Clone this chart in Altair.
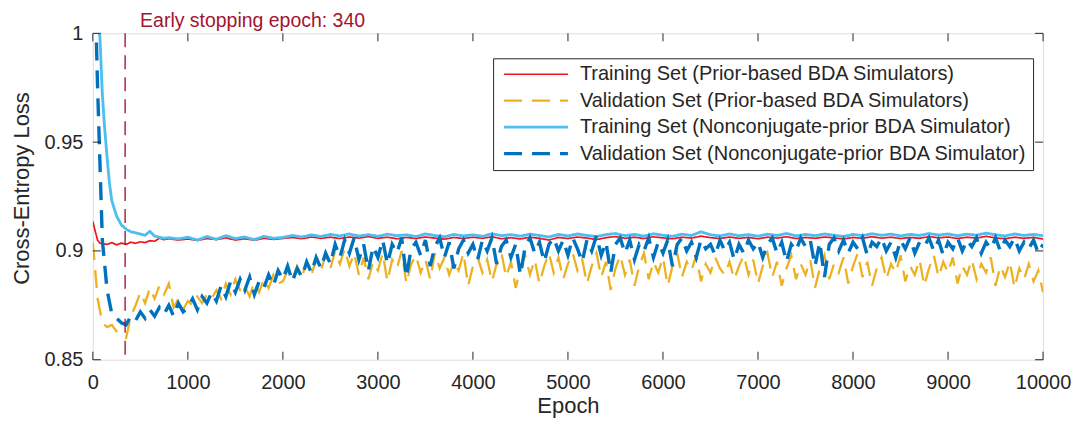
import altair as alt
import pandas as pd

SERIES = [
    "Training Set (Prior-based BDA Simulators)",
    "Validation Set (Prior-based BDA Simulators)",
    "Training Set (Nonconjugate-prior BDA Simulator)",
    "Validation Set (Nonconjugate-prior BDA Simulator)",
]
COLORS = ["#F0141E", "#EDB120", "#4DBEEE", "#0072BD"]

# ---- Training, prior-based (red) ----
red_epochs = [0, 25, 50, 75, 100, 150, 200, 250, 300, 350, 400, 450, 500, 550, 600, 650, 700, 750, 800] + list(range(900, 10001, 100))
red_loss = [
    0.9135, 0.909, 0.905, 0.9035, 0.9033, 0.9030, 0.9038, 0.9028, 0.9036, 0.9030,
    0.9040, 0.9035, 0.9042, 0.9038, 0.9047, 0.9045, 0.9058, 0.9052, 0.9056,
    0.9050, 0.9055, 0.9048, 0.9057, 0.9052, 0.9060, 0.9050, 0.9056, 0.9049, 0.9058,
    0.9053, 0.9057, 0.9062, 0.9056, 0.9064, 0.9058, 0.9063, 0.9057, 0.9064, 0.9059,
    0.9066, 0.9058, 0.9063, 0.9056, 0.9062, 0.9057, 0.9064, 0.9059, 0.9054, 0.9062,
    0.9057, 0.9063, 0.9058, 0.9065, 0.9056, 0.9061, 0.9055, 0.9063, 0.9058, 0.9050,
    0.9062, 0.9057, 0.9064, 0.9059, 0.9052, 0.9061, 0.9066, 0.9058, 0.9063, 0.9057,
    0.9065, 0.9060, 0.9056, 0.9063, 0.9059, 0.9068, 0.9061, 0.9057, 0.9064, 0.9058,
    0.9062, 0.9056, 0.9063, 0.9059, 0.9065, 0.9057, 0.9062, 0.9058, 0.9064, 0.9060,
    0.9055, 0.9062, 0.9058, 0.9065, 0.9059, 0.9063, 0.9057, 0.9062, 0.9058, 0.9066,
    0.9060, 0.9064, 0.9057, 0.9063, 0.9059, 0.9067, 0.9060, 0.9056, 0.9063, 0.9058,
    0.9062, 0.9055,
]

# ---- Training, nonconjugate-prior (light blue) ----
lb_epochs = [0, 50, 75, 100, 125, 150, 175, 200, 250, 300, 350, 400, 450, 500, 550, 600, 650, 700, 750, 800] + list(range(900, 10001, 100))
lb_loss = [
    1.03, 1.006, 0.998, 0.972, 0.956, 0.943, 0.931, 0.923, 0.916, 0.912,
    0.910, 0.9088, 0.9083, 0.9078, 0.9072, 0.9090, 0.9068, 0.9063, 0.9058, 0.9061,
    0.9055, 0.9063, 0.9050, 0.9066, 0.9054, 0.9070, 0.9057, 0.9064, 0.9052, 0.9067,
    0.9058, 0.9062, 0.9071, 0.9064, 0.9074, 0.9066, 0.9076, 0.9069, 0.9078, 0.9068,
    0.9075, 0.9067, 0.9077, 0.9070, 0.9074, 0.9066, 0.9078, 0.9071, 0.9065, 0.9076,
    0.9069, 0.9074, 0.9067, 0.9079, 0.9070, 0.9075, 0.9068, 0.9077, 0.9071, 0.9064,
    0.9076, 0.9069, 0.9078, 0.9071, 0.9066, 0.9075, 0.9080, 0.9070, 0.9076, 0.9068,
    0.9079, 0.9072, 0.9067, 0.9077, 0.9071, 0.9088, 0.9074, 0.9069, 0.9078, 0.9070,
    0.9075, 0.9068, 0.9077, 0.9071, 0.9080, 0.9069, 0.9076, 0.9070, 0.9078, 0.9072,
    0.9066, 0.9076, 0.9070, 0.9079, 0.9072, 0.9077, 0.9069, 0.9076, 0.9071, 0.9080,
    0.9073, 0.9078, 0.9070, 0.9077, 0.9072, 0.9082, 0.9074, 0.9069, 0.9078, 0.9071,
    0.9076, 0.9070,
]

# ---- Validation series, every 50 epochs ----
val_epochs = list(range(0, 10001, 50))
yellow_loss = [
    0.904, 0.878, 0.867, 0.865, 0.866, 0.863, 0.861, 0.860, 0.870, 0.875,
    0.881, 0.876, 0.883, 0.878, 0.884, 0.880, 0.885, 0.874, 0.878, 0.873,
    0.877, 0.875, 0.879, 0.876, 0.880, 0.878, 0.882, 0.878, 0.885, 0.880,
    0.887, 0.882, 0.884, 0.879, 0.886, 0.881, 0.887, 0.883, 0.889, 0.885,
    0.886, 0.891, 0.887, 0.893, 0.888, 0.895, 0.889, 0.896, 0.891, 0.898,
    0.892, 0.900, 0.894, 0.901, 0.893, 0.899, 0.889, 0.897, 0.887, 0.895,
    0.891, 0.899, 0.886, 0.896, 0.892, 0.900, 0.885, 0.894, 0.898, 0.890,
    0.896, 0.887, 0.899, 0.892, 0.897, 0.889, 0.895, 0.891, 0.899, 0.884,
    0.893, 0.897, 0.890, 0.896, 0.886, 0.894, 0.899, 0.888, 0.895, 0.883,
    0.892, 0.898, 0.889, 0.896, 0.885, 0.893, 0.899, 0.890, 0.897, 0.887,
    0.894, 0.899, 0.891, 0.896, 0.885, 0.893, 0.899, 0.888, 0.895, 0.882,
    0.892, 0.898, 0.889, 0.896, 0.884, 0.893, 0.899, 0.887, 0.895, 0.890,
    0.897, 0.884, 0.893, 0.899, 0.888, 0.895, 0.891, 0.898, 0.886, 0.894,
    0.890, 0.897, 0.892, 0.889, 0.895, 0.887, 0.893, 0.898, 0.889, 0.896,
    0.885, 0.893, 0.899, 0.888, 0.895, 0.884, 0.892, 0.898, 0.887, 0.894,
    0.889, 0.896, 0.883, 0.892, 0.898, 0.887, 0.894, 0.890, 0.897, 0.885,
    0.893, 0.899, 0.888, 0.895, 0.884, 0.892, 0.897, 0.887, 0.894, 0.890,
    0.898, 0.886, 0.893, 0.889, 0.896, 0.884, 0.892, 0.898, 0.888, 0.895,
    0.890, 0.897, 0.885, 0.893, 0.889, 0.896, 0.887, 0.894, 0.890, 0.897,
    0.884, 0.893, 0.888, 0.895, 0.883, 0.892, 0.887, 0.894, 0.886, 0.891,
    0.881,
]
dblue_loss = [
    1.06, 0.975, 0.905, 0.882, 0.871, 0.869, 0.867, 0.866, 0.870, 0.868,
    0.872, 0.869, 0.873, 0.870, 0.874, 0.871, 0.875, 0.870, 0.876, 0.872,
    0.874, 0.878, 0.873, 0.879, 0.876, 0.881, 0.877, 0.884, 0.879, 0.886,
    0.881, 0.887, 0.882, 0.888, 0.880, 0.886, 0.883, 0.889, 0.884, 0.891,
    0.887, 0.893, 0.886, 0.892, 0.888, 0.895, 0.890, 0.897, 0.892, 0.899,
    0.894, 0.903, 0.897, 0.905, 0.899, 0.906, 0.896, 0.903, 0.891, 0.902,
    0.897, 0.905, 0.894, 0.903, 0.899, 0.906, 0.888, 0.901, 0.904, 0.898,
    0.905, 0.893, 0.902, 0.906, 0.897, 0.904, 0.892, 0.901, 0.905, 0.899,
    0.903, 0.896, 0.905, 0.900, 0.906, 0.894, 0.902, 0.905, 0.897, 0.903,
    0.889, 0.902, 0.906, 0.899, 0.904, 0.895, 0.903, 0.906, 0.900, 0.905,
    0.898, 0.906, 0.901, 0.895, 0.905, 0.900, 0.907, 0.898, 0.904, 0.890,
    0.903, 0.906, 0.899, 0.905, 0.896, 0.903, 0.900, 0.906, 0.897, 0.904,
    0.899, 0.905, 0.893, 0.903, 0.906, 0.900, 0.904, 0.897, 0.905, 0.901,
    0.903, 0.898, 0.905, 0.900, 0.904, 0.896, 0.903, 0.899, 0.905, 0.901,
    0.904, 0.897, 0.903, 0.906, 0.899, 0.904, 0.895, 0.903, 0.900, 0.906,
    0.902, 0.905, 0.893, 0.904, 0.888, 0.903, 0.906, 0.900, 0.905, 0.899,
    0.904, 0.901, 0.906, 0.898, 0.904, 0.902, 0.906, 0.900, 0.904, 0.897,
    0.905, 0.901, 0.906, 0.899, 0.904, 0.902, 0.906, 0.900, 0.905, 0.898,
    0.904, 0.901, 0.906, 0.900, 0.905, 0.902, 0.906, 0.899, 0.904, 0.901,
    0.906, 0.900, 0.905, 0.902, 0.906, 0.900, 0.904, 0.901, 0.905, 0.899,
    0.903,
]

X_TICKS = list(range(0, 10001, 1000))
Y_TICKS = [0.85, 0.9, 0.95, 1.0]
EARLY_STOP = 340

frames = []
for name, ep, ls in [
    (SERIES[0], red_epochs, red_loss),
    (SERIES[1], val_epochs, yellow_loss),
    (SERIES[2], lb_epochs, lb_loss),
    (SERIES[3], val_epochs, dblue_loss),
]:
    n = min(len(ep), len(ls))
    frames.append(pd.DataFrame({"epoch": ep[:n], "loss": ls[:n], "series": name}))
df = pd.concat(frames, ignore_index=True)

FONT = "Liberation Sans"
INK = "#262626"

X = alt.X(
    "epoch:Q",
    scale=alt.Scale(domain=[0, 10000], nice=False, zero=False),
    axis=alt.Axis(
        values=X_TICKS, format="d", tickSize=0, domain=False, grid=False,
        labelFlush=False, labelPadding=13, labelFontSize=20, labelColor=INK,
        labelFont=FONT, title="Epoch", titleFontSize=22, titleFontWeight="normal",
        titleColor=INK, titleFont=FONT, titleY=53, titleBaseline="alphabetic",
    ),
)
Y = alt.Y(
    "loss:Q",
    scale=alt.Scale(domain=[0.85, 1.0], nice=False, zero=False),
    axis=alt.Axis(
        values=Y_TICKS, format="~g", tickSize=0, domain=False, grid=False,
        labelFlush=False, labelPadding=10, labelFontSize=20, labelColor=INK,
        labelFont=FONT, title="Cross-Entropy Loss", titleFontSize=22,
        titleFontWeight="normal", titleColor=INK, titleFont=FONT,
        titleX=-64, titleY=155, titleBaseline="alphabetic", titleAngle=270,
    ),
)

LEG = alt.Legend(
    title=None, orient="none", legendX=401, legendY=25,
    strokeColor=INK, fillColor="white", padding=6,
    labelFont=FONT, labelFontSize=20, labelColor=INK, labelLimit=800,
    symbolType="M-4,0H4", symbolSize=256, symbolOffset=27, labelOffset=34,
    rowPadding=6.5,
)
color = alt.Color("series:N", scale=alt.Scale(domain=SERIES, range=COLORS), legend=LEG)
dash = alt.StrokeDash("series:N", scale=alt.Scale(domain=SERIES, range=[[1, 0], [18, 10], [1, 0], [18, 10]]), legend=LEG)
width = alt.StrokeWidth("series:N", scale=alt.Scale(domain=SERIES, range=[1.7, 3.4, 1.7, 3.4]), legend=LEG)

base = alt.Chart(df)
layers = []
for s in SERIES:
    layers.append(
        base.transform_filter(alt.datum.series == s)
        .mark_line(clip=True, strokeJoin="miter", strokeCap="butt")
        .encode(x=X, y=Y, color=color, strokeDash=dash, strokeWidth=width)
    )

es = pd.DataFrame({"epoch": [EARLY_STOP], "label": [f"Early stopping epoch: {EARLY_STOP}"]})
rule = alt.Chart(es).mark_rule(color="#A2142F", strokeWidth=1.7, strokeDash=[14, 8], opacity=0.8).encode(x=X)
txt = alt.Chart(es).mark_text(
    align="left", baseline="middle", dx=15, fontSize=19.5, font=FONT, color="#A2142F"
).encode(x=X, y=alt.value(-12), text="label:N")

xt = pd.DataFrame({"epoch": X_TICKS})
yt = pd.DataFrame({"loss": Y_TICKS})
tick_style = dict(color=INK, strokeWidth=1)
xt_bot = alt.Chart(xt).mark_rule(**tick_style).encode(x=X, y=alt.value(327), y2=alt.value(319))
xt_top = alt.Chart(xt).mark_rule(**tick_style).encode(x=X, y=alt.value(0), y2=alt.value(8))
yt_left = alt.Chart(yt).mark_rule(**tick_style).encode(y=Y, x=alt.value(0), x2=alt.value(8))
yt_right = alt.Chart(yt).mark_rule(**tick_style).encode(y=Y, x=alt.value(952), x2=alt.value(944))

chart = (
    alt.layer(*layers, rule, xt_bot, xt_top, yt_left, yt_right, txt)
    .properties(
        width=952, height=327,
        autosize=alt.AutoSizeParams(type="none"),
        padding={"left": 85, "top": 25, "right": 30, "bottom": 58},
    )
    .configure_view(stroke=INK, strokeWidth=1)
    .configure(font=FONT, background="white")
)

chart.save("out.html", embed_options={"renderer": "svg", "actions": False})
